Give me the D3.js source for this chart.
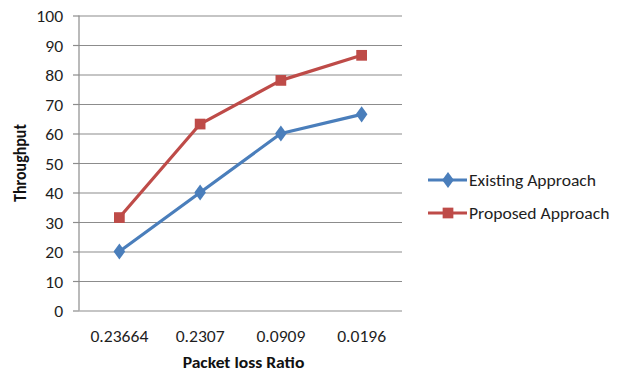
<!DOCTYPE html>
<html>
<head>
<meta charset="utf-8">
<script src="https://cdn.jsdelivr.net/npm/d3@7"></script>
<style>
  html, body { margin: 0; padding: 0; background: #fff; }
  svg { display: block; font-family: Carlito, "Liberation Sans", Arial, sans-serif; }
</style>
</head>
<body>
<svg id="chart" width="623" height="374"></svg>
<script>
// Packet loss ratio categories and throughput per approach
const categories = ["0.23664", "0.2307", "0.0909", "0.0196"];
const existing = [20, 40, 60, 66.5];
const proposed = [31.5, 63.2, 78, 86.5];
const yTicks = [0, 10, 20, 30, 40, 50, 60, 70, 80, 90, 100];
const seriesNames = ["Existing Approach", "Proposed Approach"];

const svg = d3.select("#chart");
const plot = { left: 79, right: 402, top: 15.5, bottom: 310.5 };
const fontSize = 16;
const stretch = "scale(1.1,1)"; // text is drawn slightly widened
const textColor = "#1e1e1e";

const x = d3.scaleBand().domain(categories).range([plot.left, plot.right]);
const y = d3.scaleLinear().domain([0, 100]).range([plot.bottom, plot.top]);

const grid = "#8c8c8c";

// Horizontal gridlines with tick labels
const yAxis = d3.axisLeft(y).tickValues(yTicks).tickSize(-(plot.right - plot.left)).tickPadding(14.5);
const gy = svg.append("g").attr("transform", `translate(${plot.left},0)`).call(yAxis);
gy.select(".domain").remove();
gy.selectAll(".tick line").attr("stroke", grid).attr("stroke-width", 1.2);
gy.selectAll(".tick").append("line").attr("x1", -6).attr("x2", 0).attr("stroke", grid).attr("stroke-width", 1.2);
gy.selectAll(".tick text").attr("font-size", fontSize).attr("fill", textColor)
  .attr("font-family", "Carlito, 'Liberation Sans', sans-serif").attr("transform", `translate(0,1) ${stretch}`);

// Vertical axis line
svg.append("line").attr("x1", plot.left).attr("x2", plot.left)
  .attr("y1", plot.top).attr("y2", plot.bottom).attr("stroke", grid).attr("stroke-width", 1.2);

// Category labels
const xAxis = d3.axisBottom(x).tickSize(0).tickPadding(20);
const gx = svg.append("g").attr("transform", `translate(0,${plot.bottom})`).call(xAxis);
gx.select(".domain").remove();
gx.selectAll(".tick text").attr("font-size", fontSize).attr("fill", textColor)
  .attr("font-family", "Carlito, 'Liberation Sans', sans-serif").attr("transform", stretch);

// Axis titles
svg.append("text").attr("transform", `translate(${(plot.left + plot.right) / 2 + 3},368) ${stretch}`)
  .attr("text-anchor", "middle").attr("font-size", fontSize).attr("font-weight", "bold").attr("fill", "#111")
  .text("Packet loss Ratio");
svg.append("text").attr("transform", "translate(26,163) rotate(-90) scale(1,1.1)")
  .attr("text-anchor", "middle").attr("font-size", fontSize).attr("font-weight", "bold").attr("fill", "#111")
  .text("Throughput");

const colors = ["#4a7ebb", "#be4b48"];
const series = [existing, proposed];
const line = d3.line().x((d, i) => x(categories[i]) + x.bandwidth() / 2).y(d => y(d));

const diamond = d3.symbol().type(d3.symbolDiamond).size(75);
const square = d3.symbol().type(d3.symbolSquare).size(115);
const shapes = [diamond, square];

series.forEach((vals, s) => {
  svg.append("path").datum(vals).attr("d", line)
    .attr("fill", "none").attr("stroke", colors[s]).attr("stroke-width", 3.2).attr("stroke-linejoin", "round");
  svg.selectAll(null).data(vals).enter().append("path")
    .attr("d", shapes[s])
    .attr("transform", (d, i) => `translate(${x(categories[i]) + x.bandwidth() / 2},${y(d)})` + (s === 0 ? " scale(1.25,1)" : ""))
    .attr("fill", colors[s]);
});

// Legend
const legend = svg.append("g");
seriesNames.forEach((name, s) => {
  const ly = 180 + s * 33;
  legend.append("line").attr("x1", 428).attr("x2", 467).attr("y1", ly).attr("y2", ly)
    .attr("stroke", colors[s]).attr("stroke-width", 3.2);
  legend.append("path").attr("d", shapes[s])
    .attr("transform", `translate(448,${ly})` + (s === 0 ? " scale(1.25,1)" : ""))
    .attr("fill", colors[s]);
  legend.append("text").attr("transform", `translate(469,${ly + 6}) ${stretch}`)
    .attr("font-size", fontSize).attr("fill", textColor).text(name);
});
</script>
</body>
</html>
